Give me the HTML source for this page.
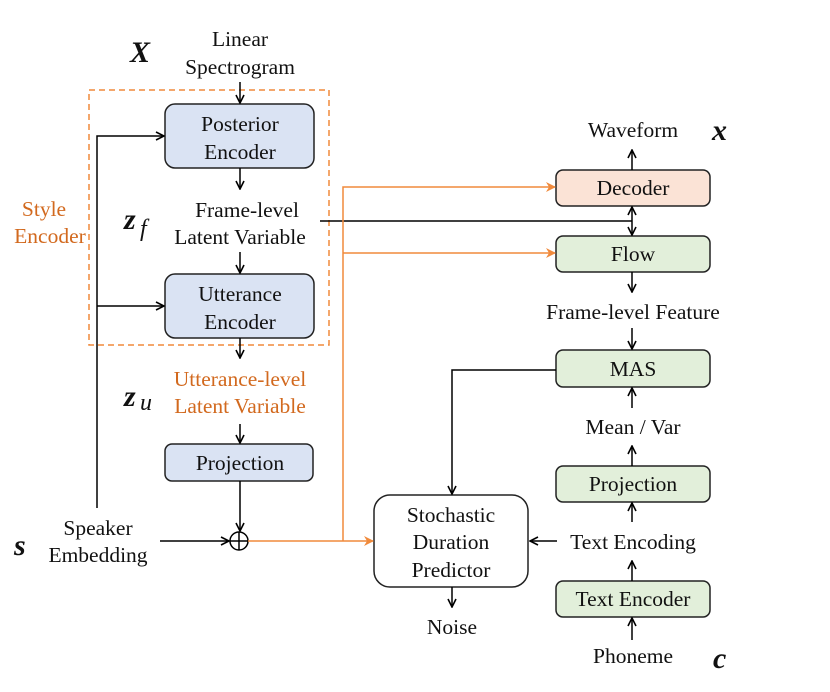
<!DOCTYPE html>
<html><head><style>
body{margin:0;background:#fff;}
svg text{font-family:"Liberation Serif","Times New Roman",serif;font-size:21.5px;fill:#111;}
.o{fill:#d2691e;}
.b{font-weight:bold;font-style:italic;font-size:30px;}
</style></head><body>
<svg width="830" height="687" viewBox="0 0 830 687" xmlns="http://www.w3.org/2000/svg">
<defs>
<marker id="a" markerWidth="10" markerHeight="10" refX="9" refY="5" orient="auto" markerUnits="userSpaceOnUse"><path d="M1,1 L9,5 L1,9" fill="none" stroke="#000" stroke-width="1.6"/></marker>
<marker id="ao" markerWidth="10" markerHeight="10" refX="9" refY="5" orient="auto" markerUnits="userSpaceOnUse"><path d="M0,0 L10,5 L0,10 L3,5 Z" fill="#f08a3c"/></marker>
</defs>
<g stroke="#222" stroke-width="1.5">
<rect x="165" y="104" width="149" height="64" rx="10" fill="#dae3f3"/>
<rect x="165" y="274" width="149" height="64" rx="10" fill="#dae3f3"/>
<rect x="165" y="444" width="148" height="37" rx="7" fill="#dae3f3"/>
<rect x="556" y="170" width="154" height="36" rx="7" fill="#fbe3d6"/>
<rect x="556" y="236" width="154" height="36" rx="7" fill="#e2efda"/>
<rect x="556" y="350" width="154" height="37" rx="7" fill="#e2efda"/>
<rect x="556" y="466" width="154" height="36" rx="7" fill="#e2efda"/>
<rect x="556" y="581" width="154" height="36" rx="7" fill="#e2efda"/>
<rect x="374" y="495" width="154" height="92" rx="16" fill="#fff"/>
</g>
<rect x="89" y="90" width="240" height="255" fill="none" stroke="#f08a3c" stroke-width="1.5" stroke-dasharray="6,4"/>
<g stroke="#000" stroke-width="1.5" fill="none">
<line x1="240" y1="82" x2="240" y2="103" marker-end="url(#a)"/>
<line x1="240" y1="168" x2="240" y2="189" marker-end="url(#a)"/>
<line x1="240" y1="252" x2="240" y2="273" marker-end="url(#a)"/>
<line x1="240" y1="338" x2="240" y2="358" marker-end="url(#a)"/>
<line x1="240" y1="424" x2="240" y2="443" marker-end="url(#a)"/>
<line x1="240" y1="481" x2="240" y2="531" marker-end="url(#a)"/>
<polyline points="97,508 97,136 164,136" marker-end="url(#a)"/>
<line x1="97" y1="306" x2="164" y2="306" marker-end="url(#a)"/>
<line x1="160" y1="541" x2="229" y2="541" marker-end="url(#a)"/>
<circle cx="239" cy="541" r="9"/>
<line x1="230" y1="541" x2="248" y2="541"/><line x1="239" y1="532" x2="239" y2="550"/>
<line x1="320" y1="221" x2="632" y2="221"/>
<line x1="632" y1="221" x2="632" y2="207" marker-end="url(#a)"/>
<line x1="632" y1="221" x2="632" y2="235" marker-end="url(#a)"/>
<line x1="632" y1="170" x2="632" y2="150" marker-end="url(#a)"/>
<line x1="632" y1="272" x2="632" y2="292" marker-end="url(#a)"/>
<line x1="632" y1="328" x2="632" y2="349" marker-end="url(#a)"/>
<polyline points="556,370 452,370 452,494" marker-end="url(#a)"/>
<line x1="632" y1="408" x2="632" y2="388" marker-end="url(#a)"/>
<line x1="632" y1="466" x2="632" y2="446" marker-end="url(#a)"/>
<line x1="632" y1="522" x2="632" y2="503" marker-end="url(#a)"/>
<line x1="632" y1="581" x2="632" y2="561" marker-end="url(#a)"/>
<line x1="632" y1="640" x2="632" y2="618" marker-end="url(#a)"/>
<line x1="557" y1="541" x2="530" y2="541" marker-end="url(#a)"/>
<line x1="452" y1="587" x2="452" y2="607" marker-end="url(#a)"/>
</g>
<g stroke="#f08a3c" stroke-width="1.5" fill="none">
<line x1="248" y1="541" x2="373" y2="541" marker-end="url(#ao)"/>
<polyline points="343,541 343,187 555,187" marker-end="url(#ao)"/>
<line x1="343" y1="253" x2="555" y2="253" marker-end="url(#ao)"/>
</g>
<g text-anchor="middle">
<text x="240" y="46">Linear</text><text x="240" y="74">Spectrogram</text>
<text x="240" y="131">Posterior</text><text x="240" y="159">Encoder</text>
<text x="247" y="217">Frame-level</text><text x="240" y="244">Latent Variable</text>
<text x="240" y="301">Utterance</text><text x="240" y="329">Encoder</text>
<text class="o" x="240" y="386">Utterance-level</text><text class="o" x="240" y="413">Latent Variable</text>
<text x="240" y="470">Projection</text>
<text class="o" x="44" y="216">Style</text><text class="o" x="50" y="243">Encoder</text>
<text x="98" y="535">Speaker</text><text x="98" y="562">Embedding</text>
<text x="633" y="137">Waveform</text>
<text x="633" y="195">Decoder</text>
<text x="633" y="261">Flow</text>
<text x="633" y="319">Frame-level Feature</text>
<text x="633" y="376">MAS</text>
<text x="633" y="434">Mean / Var</text>
<text x="633" y="491">Projection</text>
<text x="633" y="549">Text Encoding</text>
<text x="633" y="606">Text Encoder</text>
<text x="633" y="663">Phoneme</text>
<text x="451" y="522">Stochastic</text><text x="451" y="549">Duration</text><text x="451" y="577">Predictor</text>
<text x="452" y="634">Noise</text>
</g>
<text class="b" x="130" y="62">X</text>
<text class="b" x="124" y="229">z</text><text x="140" y="236" style="font-style:italic;font-size:24px">f</text>
<text class="b" x="124" y="406">z</text><text x="140" y="410" style="font-style:italic;font-size:24px">u</text>
<text class="b" x="14" y="555">s</text>
<text class="b" x="712" y="140">x</text>
<text class="b" x="713" y="668">c</text>
</svg>
</body></html>
